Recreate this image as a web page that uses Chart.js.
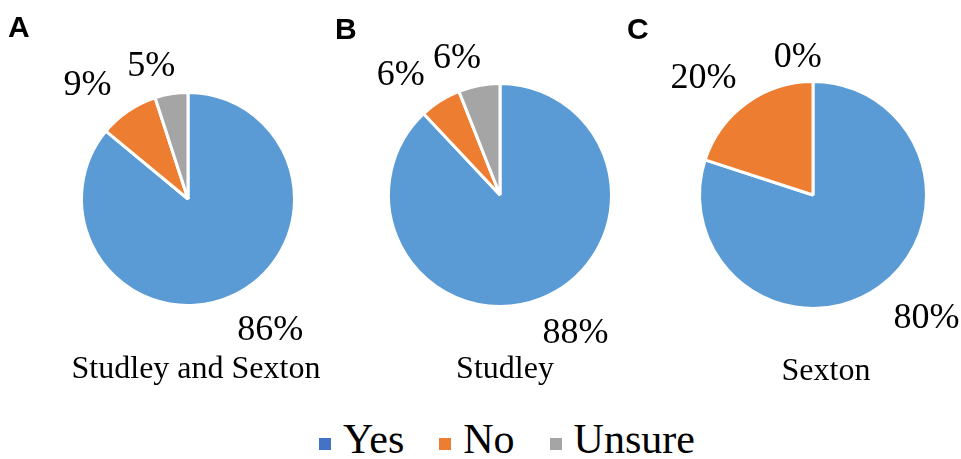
<!DOCTYPE html>
<html>
<head>
<meta charset="utf-8">
<script src="https://cdn.jsdelivr.net/npm/chart.js@4/dist/chart.umd.min.js"></script>
<style>
  html, body { margin: 0; padding: 0; background: #fff; }
  body {
    width: 961px; height: 459px; position: relative; overflow: hidden;
    font-family: 'Liberation Serif', 'Times New Roman', serif; color: #000;
  }
  canvas { position: absolute; }
  .panel {
    position: absolute; font-family: 'Liberation Sans', Arial, sans-serif;
    font-weight: bold; font-size: 30px; line-height: 30px;
  }
  .sub {
    position: absolute; font-size: 32px; line-height: 32px;
    white-space: nowrap; transform: translateX(-50%);
  }
  .pct {
    position: absolute; font-size: 36px; line-height: 36px;
    white-space: nowrap; transform: translate(-50%, -50%);
  }
  #legend {
    position: absolute; left: 0; width: 1014px; top: 418px;
    display: flex; justify-content: center;
    font-size: 42px; line-height: 42px; white-space: nowrap;
  }
  #legend .item { margin-left: 35px; }
  #legend .item:first-child { margin-left: 0; }
  #legend .swatch {
    display: inline-block; width: 12px; height: 12px;
    margin-right: 12px; margin-bottom: 3px; vertical-align: baseline;
  }
</style>
</head>
<body>
<canvas id="pieA" width="360" height="380" style="left:8px;top:9px"></canvas>
<canvas id="pieB" width="360" height="380" style="left:320px;top:5px"></canvas>
<canvas id="pieC" width="360" height="380" style="left:633px;top:5px"></canvas>

<div class="panel" style="left:8px;top:12px">A</div>
<div class="panel" style="left:335px;top:14px">B</div>
<div class="panel" style="left:627px;top:14px">C</div>

<div class="sub" style="left:196px;top:351px">Studley and Sexton</div>
<div class="sub" style="left:505px;top:351px">Studley</div>
<div class="sub" style="left:826px;top:353px">Sexton</div>

<div id="legend"></div>

<script>
// Answer categories and the share (%) of each, per group
const categories = ['Yes', 'No', 'Unsure'];
const studleyAndSexton = [86, 9, 5];
const studley = [88, 6, 6];
const sexton = [80, 20, 0];

const sliceColors = ['#5B9BD5', '#ED7D31', '#A5A5A5'];
const legendColors = ['#4472C4', '#ED7D31', '#A5A5A5'];

// Percent labels placed just outside each slice, along its mid-angle;
// labels sitting to the side are pushed a little further out than those on top.
// They are laid out as page text over the canvas, using the arcs' geometry.
const outsideLabels = {
  id: 'outsideLabels',
  afterRender(chart, args, opts) {
    if (chart.$pctLabels) return;
    chart.$pctLabels = true;
    const canvas = chart.canvas;
    const meta = chart.getDatasetMeta(0);
    const values = chart.data.datasets[0].data;
    meta.data.forEach((arc, i) => {
      const p = arc.getProps(['x', 'y', 'startAngle', 'endAngle', 'outerRadius'], true);
      const a = (p.startAngle + p.endAngle) / 2 - opts.bias;
      const dx = Math.cos(a), dy = Math.sin(a);
      const dist = p.outerRadius + opts.gap + opts.sideGap * Math.abs(dx);
      const el = document.createElement('div');
      el.className = 'pct';
      el.textContent = values[i] + '%';
      el.style.left = (canvas.offsetLeft + p.x + dx * dist + opts.nudgeX) + 'px';
      el.style.top = (canvas.offsetTop + p.y + dy * dist + opts.nudgeY) + 'px';
      document.body.appendChild(el);
    });
  }
};

function makePie(id, values, radius) {
  return new Chart(document.getElementById(id), {
    type: 'pie',
    data: {
      labels: categories,
      datasets: [{
        data: values,
        backgroundColor: sliceColors,
        borderColor: '#ffffff',
        borderWidth: 3,
        hoverOffset: 0,
        radius: radius
      }]
    },
    options: {
      responsive: false,
      animation: false,
      events: [],
      layout: { padding: 0 },
      plugins: {
        legend: { display: false },
        tooltip: { enabled: false },
        outsideLabels: {
          gap: 24,
          sideGap: 38,
          bias: 7 * Math.PI / 180,
          nudgeX: 2,
          nudgeY: 1
        }
      }
    },
    plugins: [outsideLabels]
  });
}

makePie('pieA', studleyAndSexton, 106.5);
makePie('pieB', studley, 111.5);
makePie('pieC', sexton, 113.5);

// Shared legend for the three pies
const legend = document.getElementById('legend');
categories.forEach((name, i) => {
  const item = document.createElement('span');
  item.className = 'item';
  const sw = document.createElement('span');
  sw.className = 'swatch';
  sw.style.background = legendColors[i];
  item.appendChild(sw);
  item.appendChild(document.createTextNode(name));
  legend.appendChild(item);
});
</script>
</body>
</html>
